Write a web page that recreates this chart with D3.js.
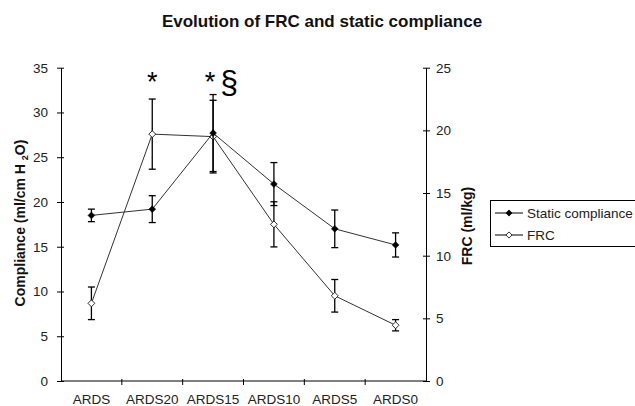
<!DOCTYPE html>
<html>
<head>
<meta charset="utf-8">
<script src="https://cdn.jsdelivr.net/npm/d3@7.9.0/dist/d3.min.js"></script>
<style>
  body { margin: 0; background: #fff; }
  text { font-family: "Liberation Sans", Arial, sans-serif; }
</style>
</head>
<body>
<svg width="635" height="406"></svg>
<script>
const categories = ['ARDS', 'ARDS20', 'ARDS15', 'ARDS10', 'ARDS5', 'ARDS0'];
const compliance = [18.5, 19.2, 27.7, 22.0, 17.0, 15.2];
const complianceErr = [0.7, 1.5, 4.3, 2.4, 2.1, 1.35];
const frc = [6.2, 19.7, 19.5, 12.5, 6.8, 4.45];
const frcErr = [1.3, 2.8, 2.9, 1.8, 1.3, 0.45];
const leftTicks = [0, 5, 10, 15, 20, 25, 30, 35];
const rightTicks = [0, 5, 10, 15, 20, 25];
const marks = [
  { cat: 'ARDS20', text: '*', dx: 0 },
  { cat: 'ARDS15', text: '*', dx: -3 },
  { cat: 'ARDS15', text: '§', dx: 16 }
];

const svg = d3.select('svg');
const plotL = 61, plotR = 426, plotT = 67.7, plotB = 381;

let x = d3.scaleBand().domain(categories).range([plotL, plotR]);
let yL = d3.scaleLinear().domain([0, 35]).range([plotB, plotT]);
let yR = d3.scaleLinear().domain([0, 25]).range([plotB, plotT]);
let cx = (c) => x(c) + x.bandwidth() / 2;

svg.append('text')
  .attr('x', 322).attr('y', 27)
  .attr('text-anchor', 'middle')
  .attr('font-weight', 'bold')
  .attr('font-size', 17)
  .attr('fill', '#111')
  .text('Evolution of FRC and static compliance');

// axes
function styleAxis(g) {
  g.selectAll('path, line').attr('stroke', '#000');
  g.selectAll('text').attr('font-size', 13.5).attr('fill', '#222');
}
svg.append('g')
  .attr('transform', `translate(${plotL},0)`)
  .call(d3.axisLeft(yL).tickValues(leftTicks).tickSize(4).tickSizeOuter(0).tickPadding(9))
  .call(styleAxis)
  .call((g) => g.selectAll('.tick line').attr('x2', 3).attr('x1', -4));
svg.append('g')
  .attr('transform', `translate(${plotR},0)`)
  .call(d3.axisRight(yR).tickValues(rightTicks).tickSize(4).tickSizeOuter(0).tickPadding(6))
  .call(styleAxis)
  .call((g) => g.selectAll('.tick line').attr('x1', -3).attr('x2', 4));

// x axis: ticks at band edges, labels at centers
let xg = svg.append('g');
xg.append('line').attr('x1', plotL).attr('x2', plotR).attr('y1', plotB).attr('y2', plotB).attr('stroke', '#000');
x.domain().forEach((c, i) => {
  if (i > 0) {
    xg.append('line').attr('x1', x(c)).attr('x2', x(c)).attr('y1', plotB - 2).attr('y2', plotB + 4).attr('stroke', '#000');
  }
  xg.append('text')
    .attr('x', cx(c)).attr('y', 404)
    .attr('text-anchor', 'middle')
    .attr('font-size', 13.5).attr('fill', '#222')
    .text(c);
});

// axis titles
let lt = svg.append('text')
  .attr('transform', 'translate(25,223) rotate(-90)')
  .attr('text-anchor', 'middle')
  .attr('font-weight', 'bold').attr('font-size', 14).attr('fill', '#111');
lt.append('tspan').text('Compliance (ml/cm H ');
lt.append('tspan').attr('font-size', 9).attr('dy', 3).text('2');
lt.append('tspan').attr('dy', -3).text('O)');

svg.append('text')
  .attr('transform', 'translate(472,226) rotate(-90)')
  .attr('text-anchor', 'middle')
  .attr('font-weight', 'bold').attr('font-size', 14).attr('fill', '#111')
  .text('FRC (ml/kg)');

// series
function drawSeries(vals, errs, y, filled) {
  let pts = categories.map((c, i) => ({ c, v: vals[i], e: errs[i] }));
  let line = d3.line().x((d) => cx(d.c)).y((d) => y(d.v));
  svg.append('path').datum(pts).attr('d', line).attr('fill', 'none').attr('stroke', '#333').attr('stroke-width', 1);
  pts.forEach((d) => {
    let px = cx(d.c);
    let g = svg.append('g').attr('stroke', '#000').attr('stroke-width', 1.3);
    g.append('line').attr('x1', px).attr('x2', px).attr('y1', y(d.v - d.e)).attr('y2', y(d.v + d.e));
    g.append('line').attr('x1', px - 3.5).attr('x2', px + 3.5).attr('y1', y(d.v - d.e)).attr('y2', y(d.v - d.e));
    g.append('line').attr('x1', px - 3.5).attr('x2', px + 3.5).attr('y1', y(d.v + d.e)).attr('y2', y(d.v + d.e));
  });
  svg.append('g').selectAll('path').data(pts).join('path')
    .attr('d', d3.symbol(d3.symbolDiamond2, 30))
    .attr('transform', (d) => `translate(${cx(d.c)},${y(d.v)})`)
    .attr('fill', filled ? '#000' : '#fff')
    .attr('stroke', '#000').attr('stroke-width', filled ? 0.5 : 0.8);
}
drawSeries(frc, frcErr, yR, false);
drawSeries(compliance, complianceErr, yL, true);

marks.forEach((m) => {
  let star = m.text === '*';
  svg.append('text')
    .attr('x', cx(m.cat) + m.dx).attr('y', star ? 91 : 93)
    .attr('text-anchor', 'middle')
    .attr('font-family', '"Liberation Serif", "Times New Roman", serif')
    .attr('font-size', star ? 27 : 32)
    .text(m.text);
});

// legend
let lg = svg.append('g');
lg.append('rect').attr('x', 490.5).attr('y', 200.5).attr('width', 160).attr('height', 46)
  .attr('fill', '#fff').attr('stroke', '#000');
[{ label: 'Static compliance', filled: true, y: 213 }, { label: 'FRC', filled: false, y: 235 }].forEach((d) => {
  lg.append('line').attr('x1', 495).attr('x2', 523).attr('y1', d.y).attr('y2', d.y).attr('stroke', '#000');
  lg.append('path').attr('d', d3.symbol(d3.symbolDiamond2, 24))
    .attr('transform', `translate(509,${d.y})`)
    .attr('fill', d.filled ? '#000' : '#fff').attr('stroke', '#000').attr('stroke-width', 0.8);
  lg.append('text').attr('x', 527).attr('y', d.y + 4.5).attr('font-size', 13.5).attr('fill', '#222').text(d.label);
});
</script>
</body>
</html>
